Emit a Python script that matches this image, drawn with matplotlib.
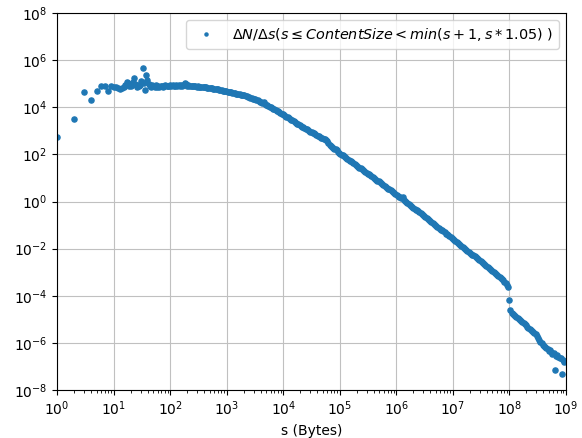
import numpy as np
import matplotlib
matplotlib.use('Agg')
from matplotlib import pyplot as plt
from matplotlib import ticker


# Bins: one byte wide below s=20, then 5% wide (s -> s*1.05)
s_small = list(range(1, 20))
s_start = 20
growth = 1.05
n_geo = 363

# log10 of dN/ds for the one-byte bins (s = 1..19)
logy_small = [2.74, 3.50, 4.63, 4.29, 4.68, 4.91, 4.91, 4.68, 4.90, 4.88,
              4.85, 4.80, 4.76, 4.80, 4.87, 4.95, 5.09, 5.01, 4.92]

# log10 of dN/ds for the 5% bins, in order of s
logy_geo = [
    4.90, 4.96, 5.06, 5.23, 5.00, 4.88, 4.93, 4.90, 4.96, 5.10,
    5.65, 5.02, 4.73, 5.37, 5.15, 4.97, 4.92, 4.88, 4.95, 4.90,
    4.86, 4.93, 4.88, 4.91, 4.85, 4.90, 4.92, 4.87, 4.90, 4.94,
    4.89, 4.92, 4.90, 4.93, 4.91, 4.94, 4.92, 4.90, 4.93, 4.91,
    4.93, 4.92, 4.94, 4.91, 4.95, 5.04, 4.97, 4.92, 4.93, 4.91,
    4.92, 4.90, 4.91, 4.89, 4.90, 4.88, 4.89, 4.87, 4.88, 4.86,
    4.86, 4.85, 4.84, 4.84, 4.83, 4.82, 4.82, 4.81, 4.80, 4.79,
    4.78, 4.78, 4.77, 4.76, 4.75, 4.74, 4.72, 4.71, 4.70, 4.68,
    4.67, 4.66, 4.65, 4.64, 4.63, 4.62, 4.61, 4.60, 4.58, 4.57,
    4.56, 4.55, 4.54, 4.52, 4.51, 4.50, 4.48, 4.47, 4.45, 4.43,
    4.41, 4.39, 4.37, 4.35, 4.33, 4.31, 4.29, 4.27, 4.24, 4.22,
    4.19, 4.24, 4.14, 4.11, 4.09, 4.06, 4.03, 4.00, 3.97, 3.94,
    3.91, 3.88, 3.85, 3.82, 3.79, 3.76, 3.73, 3.70, 3.67, 3.63,
    3.60, 3.57, 3.54, 3.51, 3.47, 3.44, 3.41, 3.37, 3.34, 3.30,
    3.27, 3.24, 3.21, 3.18, 3.15, 3.12, 3.09, 3.06, 3.03, 3.00,
    2.97, 2.94, 2.91, 2.89, 2.86, 2.83, 2.80, 2.77, 2.74, 2.71,
    2.68, 2.66, 2.64, 2.61, 2.55, 2.48, 2.41, 2.35, 2.30, 2.27,
    2.24, 2.21, 2.17, 2.12, 2.07, 2.03, 1.99, 1.96, 1.92, 1.88,
    1.85, 1.81, 1.77, 1.74, 1.70, 1.66, 1.63, 1.59, 1.55, 1.52,
    1.48, 1.44, 1.41, 1.37, 1.33, 1.30, 1.26, 1.22, 1.18, 1.15,
    1.11, 1.07, 1.04, 1.00, 0.96, 0.93, 0.89, 0.85, 0.81, 0.78,
    0.74, 0.70, 0.66, 0.63, 0.59, 0.55, 0.52, 0.48, 0.44, 0.40,
    0.36, 0.32, 0.29, 0.25, 0.21, 0.17, 0.16, 0.17, 0.07, 0.03,
    -0.01, -0.05, -0.09, -0.13, -0.18, -0.22, -0.26, -0.30, -0.34, -0.38,
    -0.42, -0.46, -0.50, -0.54, -0.58, -0.62, -0.66, -0.70, -0.74, -0.78,
    -0.82, -0.86, -0.90, -0.95, -0.99, -1.03, -1.07, -1.11, -1.15, -1.19,
    -1.23, -1.27, -1.31, -1.36, -1.40, -1.44, -1.48, -1.52, -1.56, -1.60,
    -1.65, -1.69, -1.73, -1.77, -1.81, -1.85, -1.89, -1.93, -1.97, -2.01,
    -2.05, -2.09, -2.13, -2.17, -2.21, -2.25, -2.29, -2.33, -2.37, -2.41,
    -2.45, -2.49, -2.53, -2.57, -2.61, -2.65, -2.70, -2.74, -2.78, -2.82,
    -2.87, -2.91, -2.95, -3.00, -3.04, -3.08, -3.12, -3.17, -3.21, -3.25,
    -3.30, -3.35, -3.41, -3.47, -3.54, -3.62, -4.18, -4.62, -4.72, -4.77,
    -4.81, -4.86, -4.90, -4.95, -4.99, -5.04, -5.08, -5.13, -5.17, -5.22,
    -5.26, -5.31, -5.36, -5.40, -5.45, -5.49, -5.54, -5.58, -5.64, -5.72,
    -5.80, -5.88, -5.95, -6.02, -6.10, -6.15, -6.19, -6.23, -6.27, -6.33,
    -6.30, -6.40, -6.46, -6.42, -7.14, -6.55, -6.50, -6.60, -6.66, -6.63,
    -7.32, -6.72, -6.80,
]

s_geo = s_start * growth ** np.arange(n_geo)
s = np.concatenate([s_small, s_geo])
dNds = 10.0 ** np.array(logy_small + logy_geo)

fig = plt.figure(figsize=(5.82, 4.38), dpi=100)
ax = fig.add_axes([0.098, 0.1096, 0.8745, 0.8607])

ax.plot(s, dNds, 'o', markersize=3.7, color='#1f77b4',
        label=r'$\Delta N/\Delta s(s \leq ContentSize < min(s+1, s*1.05)\ )$')

ax.set_xscale('log')
ax.set_yscale('log')
ax.set_xlim(1, 1e9)
ax.set_ylim(1e-8, 1e8)
ax.xaxis.set_major_locator(ticker.LogLocator(base=10, numticks=20))
ax.set_yticks([10.0 ** p for p in range(-8, 9, 2)])
ax.yaxis.set_minor_locator(ticker.NullLocator())
ax.grid(True, color='#c0c0c0')
ax.set_xlabel('s (Bytes)')
ax.legend(loc='upper right', markerscale=0.6, fontsize=10.4)

plt.savefig('out.png', dpi=100)
